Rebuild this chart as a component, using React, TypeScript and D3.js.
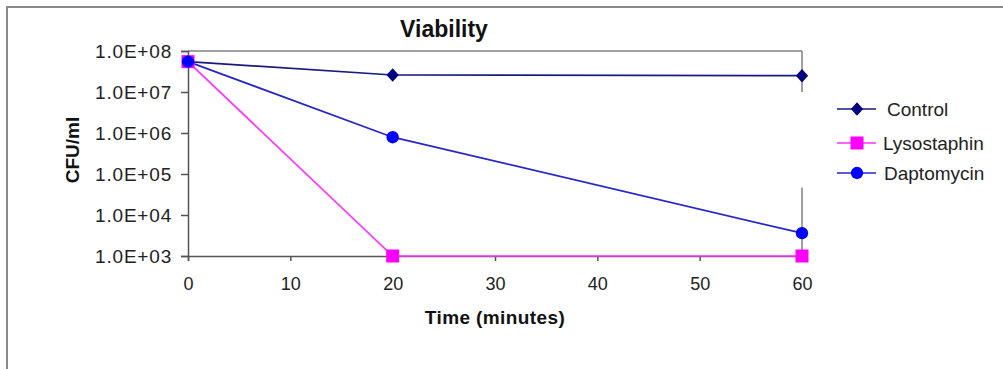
import React from 'react';
import * as d3 from 'd3';

const times = [0, 20, 60];
const control = [5.5e7, 2.6e7, 2.5e7];
const lysostaphin = [5.5e7, 1e3, 1e3];
const daptomycin = [5.5e7, 7.9e5, 3.6e3];
const controlErr = [[60, 1e8, 1e7]];
const daptoErr = [[60, 4.7e4, 1e3]];
const xTicks = [0, 10, 20, 30, 40, 50, 60];
const yTicks = [1e3, 1e4, 1e5, 1e6, 1e7, 1e8];
const seriesNames = ['Control', 'Lysostaphin', 'Daptomycin'];

// square diamond (not the tall d3 one)
const flatDiamond = {
  draw(ctx: any, size: number) {
    const r = Math.sqrt(size / 2);
    ctx.moveTo(0, -r * 1.05);
    ctx.lineTo(r * 0.95, 0);
    ctx.lineTo(0, r * 1.05);
    ctx.lineTo(-r * 0.95, 0);
    ctx.closePath();
  },
};

const App = () => {
  const ref = React.useRef<SVGSVGElement>(null);

  React.useEffect(() => {
    const svg = d3.select(ref.current);
    svg.selectAll('*').remove();

    const width = 1003;
    const height = 369;
    const margin = { top: 51, right: 201, bottom: 113, left: 188 };
    const font = 'Arial, "Liberation Sans", sans-serif';

    const x = d3.scaleLinear().domain([0, 60]).range([margin.left, width - margin.right]);
    const y = d3.scaleLog().domain([1e3, 1e8]).range([height - margin.bottom, margin.top]);

    // outer frame (top and left edge only visible)
    svg.append('path')
      .attr('d', `M7,${height} V7 H${width}`)
      .attr('fill', 'none')
      .attr('stroke', '#8a8a8a')
      .attr('stroke-width', 2);

    // plot area top border
    svg.append('line')
      .attr('x1', x(0)).attr('x2', x(60))
      .attr('y1', y(1e8)).attr('y2', y(1e8))
      .attr('stroke', '#808080').attr('stroke-width', 1.5);

    // error bars
    [...controlErr, ...daptoErr].forEach(([t, hi, lo]) => {
      svg.append('line')
        .attr('x1', x(t)).attr('x2', x(t))
        .attr('y1', y(hi)).attr('y2', y(lo))
        .attr('stroke', '#808080').attr('stroke-width', 1.5);
    });

    const xAxis = svg.append('g')
      .attr('transform', `translate(0, ${y(1e3)})`)
      .call(d3.axisBottom(x).tickValues(xTicks).tickSize(5).tickPadding(16).tickFormat(d3.format('d')));
    xAxis.selectAll('text').attr('font-size', 18).attr('font-family', font).attr('fill', '#222');

    const yAxis = svg.append('g')
      .attr('transform', `translate(${x(0)}, 0)`)
      .call(d3.axisLeft(y).tickValues(yTicks).tickSize(7).tickPadding(9)
        .tickFormat(d => {
          const e = Math.round(Math.log10(+d));
          return `1.0E+${String(e).padStart(2, '0')}`;
        }));
    yAxis.selectAll('text').attr('font-size', 19).attr('letter-spacing', 0.8)
      .attr('font-family', font).attr('fill', '#222');

    [xAxis, yAxis].forEach(g => {
      g.select('.domain').attr('stroke', '#555').attr('stroke-width', 1.5);
      g.selectAll('.tick line').attr('stroke', '#555').attr('stroke-width', 1.5);
    });

    const series = [
      { name: seriesNames[0], values: control, line: '#1a1a80', fill: '#000080', shape: 'diamond' },
      { name: seriesNames[1], values: lysostaphin, line: '#ff33ff', fill: '#ff00ff', shape: 'square' },
      { name: seriesNames[2], values: daptomycin, line: '#2626c8', fill: '#0000ff', shape: 'circle' },
    ];

    const symbolOf = (s: string) =>
      s === 'diamond' ? d3.symbol(flatDiamond as any, 84)
        : s === 'square' ? d3.symbol(d3.symbolSquare, 169)
          : d3.symbol(d3.symbolCircle, 120);

    const line = d3.line<number>().x((_, i) => x(times[i])).y(d => y(d));

    series.forEach(s => {
      svg.append('path')
        .datum(s.values)
        .attr('fill', 'none')
        .attr('stroke', s.line)
        .attr('stroke-width', 1.7)
        .attr('d', line);
    });

    series.forEach(s => {
      svg.selectAll(null)
        .data(s.values)
        .enter()
        .append('path')
        .attr('transform', (d, i) => `translate(${x(times[i])}, ${y(d)})`)
        .attr('d', symbolOf(s.shape)() as string)
        .attr('fill', s.fill);
    });

    // title
    svg.append('text')
      .attr('x', 444).attr('y', 37)
      .attr('text-anchor', 'middle')
      .attr('font-family', font).attr('font-weight', 'bold').attr('font-size', 23)
      .attr('fill', '#111')
      .text('Viability');

    // axis titles
    svg.append('text')
      .attr('x', (x(0) + x(60)) / 2).attr('y', 324)
      .attr('text-anchor', 'middle')
      .attr('font-family', font).attr('font-weight', 'bold').attr('font-size', 19)
      .attr('letter-spacing', 0.4)
      .attr('fill', '#111')
      .text('Time (minutes)');

    svg.append('text')
      .attr('transform', 'translate(79, 150) rotate(-90)')
      .attr('text-anchor', 'middle')
      .attr('font-family', font).attr('font-weight', 'bold').attr('font-size', 19)
      .attr('fill', '#111')
      .text('CFU/ml');

    // legend
    const legendY = [109, 143, 173];
    const textX = [50, 46, 47];
    series.forEach((s, i) => {
      const g = svg.append('g').attr('transform', `translate(837, ${legendY[i]})`);
      g.append('line').attr('x1', 0).attr('x2', 39).attr('y1', 0).attr('y2', 0)
        .attr('stroke', s.line).attr('stroke-width', 1.7);
      g.append('path').attr('transform', 'translate(20, 0)')
        .attr('d', symbolOf(s.shape)() as string).attr('fill', s.fill);
      g.append('text').attr('x', textX[i]).attr('y', 0).attr('dy', '0.35em')
        .attr('font-family', font).attr('font-size', 19).attr('fill', '#222')
        .text(s.name);
    });
  }, []);

  return (
    <svg ref={ref} width={1003} height={369}
      style={{ position: 'absolute', left: 0, top: 0, background: '#fff' }} />
  );
};

export default App;
